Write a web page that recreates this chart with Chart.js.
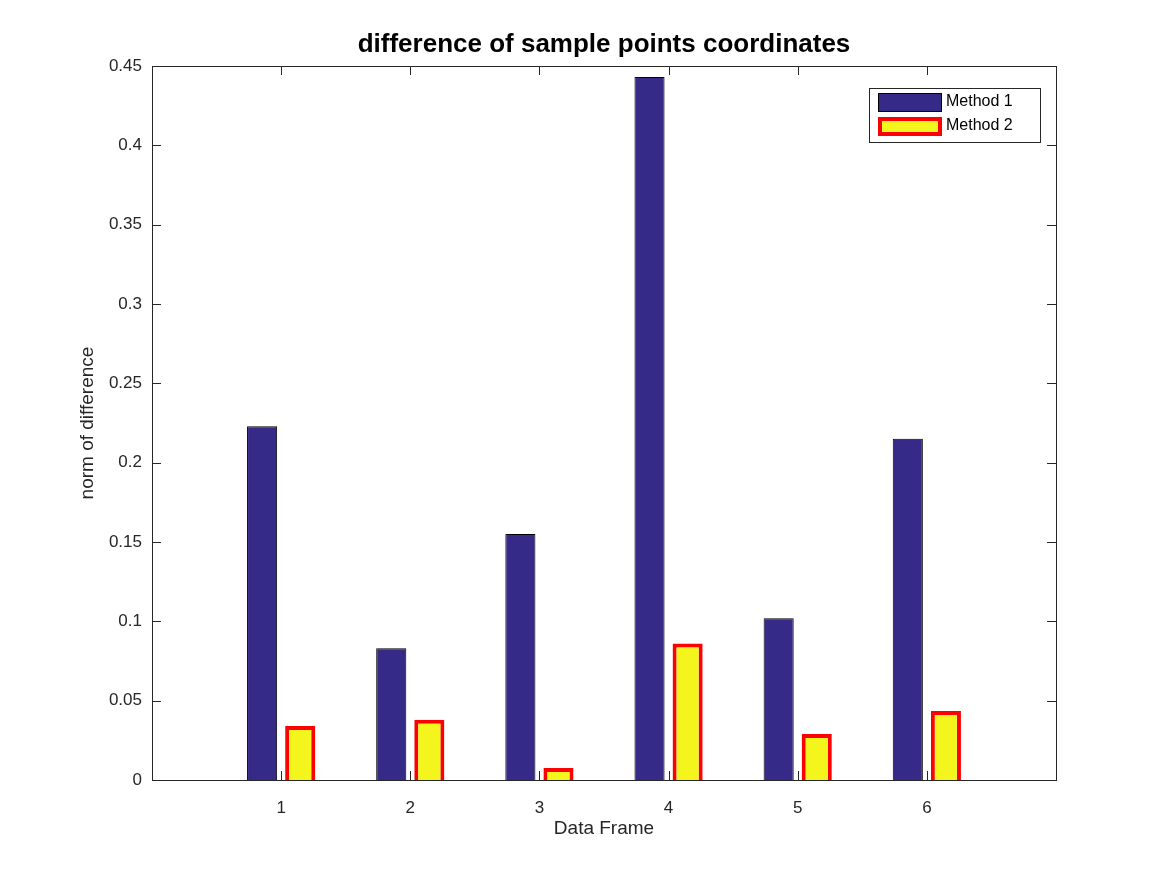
<!DOCTYPE html>
<html>
<head>
<meta charset="UTF-8">
<title>difference of sample points coordinates</title>
<script src="https://cdn.jsdelivr.net/npm/chart.js@4"></script>
<style>
  body { margin:0; background:#fff; }
  #wrap { width:1167px; height:875px; }
</style>
</head>
<body>
<div id="wrap"><canvas id="chart" width="1167" height="875"></canvas></div>
<script>
// data
const frames = [1, 2, 3, 4, 5, 6];
const method1 = [0.223, 0.083, 0.155, 0.443, 0.102, 0.215];
const method2 = [0.034, 0.038, 0.0075, 0.086, 0.029, 0.0435];
const yTicks = [0, 0.05, 0.1, 0.15, 0.2, 0.25, 0.3, 0.35, 0.4, 0.45];

const FONT = '"Liberation Sans", Arial, sans-serif';

// box, inward ticks, title, axis labels and legend like the MATLAB figure
const matlabFrame = {
  id: 'matlabFrame',
  afterDraw(chart) {
    const {ctx, chartArea: a, scales: {x, y}} = chart;
    ctx.save();
    ctx.strokeStyle = '#262626';
    ctx.lineWidth = 1;
    ctx.strokeRect(a.left + 0.5, a.top + 0.5, a.right - a.left, a.bottom - a.top);
    ctx.beginPath();
    frames.forEach(f => {
      const px = Math.round(x.getPixelForValue(f)) + 0.5;
      ctx.moveTo(px, a.bottom); ctx.lineTo(px, a.bottom - 9);
      ctx.moveTo(px, a.top); ctx.lineTo(px, a.top + 9);
    });
    yTicks.forEach(t => {
      const py = Math.round(y.getPixelForValue(t)) + 0.5;
      ctx.moveTo(a.left, py); ctx.lineTo(a.left + 9, py);
      ctx.moveTo(a.right, py); ctx.lineTo(a.right - 9, py);
    });
    ctx.stroke();

    ctx.fillStyle = '#000';
    ctx.font = 'bold 26px ' + FONT;
    ctx.textAlign = 'center';
    ctx.textBaseline = 'middle';
    ctx.fillText('difference of sample points coordinates', (a.left + a.right) / 2, 45);

    ctx.fillStyle = '#262626';
    ctx.font = '19px ' + FONT;
    ctx.fillText('Data Frame', (a.left + a.right) / 2, 829);
    ctx.save();
    ctx.translate(88, (a.top + a.bottom) / 2);
    ctx.rotate(-Math.PI / 2);
    ctx.fillText('norm of difference', 0, 0);
    ctx.restore();

    // legend
    const lx = 869, ly = 88, lw = 171, lh = 54;
    ctx.fillStyle = '#fff';
    ctx.fillRect(lx, ly, lw, lh);
    ctx.strokeStyle = '#262626';
    ctx.lineWidth = 1;
    ctx.strokeRect(lx + 0.5, ly + 0.5, lw, lh);
    ctx.fillStyle = '#352a87';
    ctx.fillRect(878, 93, 63, 18);
    ctx.strokeStyle = '#000';
    ctx.strokeRect(878.5, 93.5, 63, 18);
    ctx.fillStyle = '#f5f51e';
    ctx.fillRect(878, 117, 63, 18);
    ctx.strokeStyle = '#ff0000';
    ctx.lineWidth = 4;
    ctx.strokeRect(880, 119, 60, 15);
    ctx.fillStyle = '#000';
    ctx.font = '16px ' + FONT;
    ctx.textAlign = 'left';
    ctx.fillText('Method 1', 946, 102);
    ctx.fillText('Method 2', 946, 126);
    ctx.restore();
  }
};

new Chart(document.getElementById('chart'), {
  type: 'bar',
  data: {
    datasets: [
      {
        label: 'Method 1',
        data: frames.map((f, i) => ({x: f, y: method1[i]})),
        backgroundColor: '#352a87',
        borderColor: '#000',
        borderWidth: 1
      },
      {
        label: 'Method 2',
        data: frames.map((f, i) => ({x: f, y: method2[i]})),
        backgroundColor: '#f5f51e',
        borderColor: '#ff0000',
        borderWidth: 4
      }
    ]
  },
  options: {
    responsive: false,
    animation: false,
    categoryPercentage: 0.59,
    barPercentage: 0.79,
    layout: { padding: { left: 0, top: 66, right: 111, bottom: 0 } },
    plugins: { legend: { display: false }, title: { display: false }, tooltip: { enabled: false } },
    scales: {
      x: {
        type: 'linear', min: 0, max: 7, offset: false,
        grid: { display: false, offset: false },
        border: { display: false },
        afterFit: s => { s.height = 95; },
        afterBuildTicks: s => { s.ticks = frames.map(v => ({value: v})); },
        ticks: { color: '#262626', font: { size: 17, family: FONT }, padding: 10 }
      },
      y: {
        min: 0, max: 0.45,
        grid: { display: false },
        border: { display: false },
        afterFit: s => { s.width = 152; },
        afterBuildTicks: s => { s.ticks = yTicks.map(v => ({value: v})); },
        ticks: {
          color: '#262626', font: { size: 17, family: FONT }, padding: 2,
          callback: v => String(Math.round(v * 100) / 100)
        }
      }
    }
  },
  plugins: [matlabFrame]
});
</script>
</body>
</html>
